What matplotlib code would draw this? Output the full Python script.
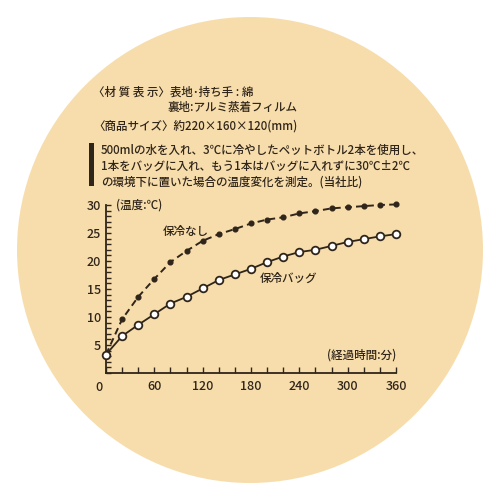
import matplotlib
matplotlib.use("Agg")
import matplotlib.pyplot as plt
from matplotlib.patches import Circle, Rectangle
from matplotlib.ticker import FixedLocator, MultipleLocator

plt.rcParams["font.family"] = ["Noto Sans CJK JP", "DejaVu Sans"]
plt.rcParams["font.weight"] = "medium"

minutes = list(range(0, 361, 20))
no_cooler = [3.3, 9.6, 13.6, 16.8, 19.8, 21.8, 23.6, 24.8, 25.7, 26.7,
             27.4, 27.8, 28.5, 28.9, 29.4, 29.6, 29.8, 30.0, 30.1]
cooler_bag = [3.3, 6.6, 8.6, 10.5, 12.4, 13.6, 15.1, 16.6, 17.6, 18.6,
              19.8, 20.8, 21.6, 22.0, 22.7, 23.4, 23.9, 24.4, 24.8]
x_ticks = [60, 120, 180, 240, 300, 360]
y_ticks = [5, 10, 15, 20, 25, 30]

header_lines = [
    (93, 92, "〈材 質 表 示〉表地･持ち手 : 綿"),
    (168, 107, "裏地:アルミ蒸着フィルム"),
    (93, 126, "〈商品サイズ〉約220×160×120(mm)"),
]
note_lines = [
    "500mlの水を入れ、3℃に冷やしたペットボトル2本を使用し、",
    "1本をバッグに入れ、もう1本はバッグに入れずに30℃±2℃",
    "の環境下に置いた場合の温度変化を測定。(当社比)",
]

ink = "#30251a"
paper = "#f7ddac"

fig = plt.figure(figsize=(5, 5), dpi=100)
fig.patch.set_facecolor("white")
fig.patches.append(Circle((0.5, 0.5), 0.466, transform=fig.transFigure,
                          facecolor=paper, edgecolor="none", zorder=0))


def px(x, y):
    return x / 500, 1 - y / 500


for x, y, s in header_lines:
    fig.text(*px(x, y), s, fontsize=8.3, color=ink, va="center", ha="left")
for i, s in enumerate(note_lines):
    fig.text(*px(101, 150 + i * 16), s, fontsize=8.3, color=ink,
             va="center", ha="left")
fig.patches.append(Rectangle(px(89, 186), 5 / 500, 43 / 500,
                             transform=fig.transFigure, facecolor=ink,
                             edgecolor="none"))

ax = fig.add_axes([0.212, 0.254, 0.58, 0.336])
ax.set_zorder(5)
ax.set_facecolor("none")
ax.plot(minutes, no_cooler, color=ink, lw=1.4, ls=(0, (3.5, 2.2)),
        marker="o", ms=3.4, mfc=ink, mec=ink, clip_on=False, zorder=3)
ax.plot(minutes, cooler_bag, color=ink, lw=1.3, marker="o", ms=5.5,
        mfc="white", mec=ink, mew=1.3, clip_on=False, zorder=4)

ax.set_xlim(0, 360)
ax.set_ylim(0, 30)
for side in ("top", "right"):
    ax.spines[side].set_visible(False)
for side in ("left", "bottom"):
    ax.spines[side].set_color(ink)
    ax.spines[side].set_linewidth(1.3)

ax.xaxis.set_major_locator(FixedLocator(x_ticks))
ax.xaxis.set_minor_locator(MultipleLocator(20))
ax.yaxis.set_major_locator(FixedLocator(y_ticks))
ax.yaxis.set_minor_locator(MultipleLocator(1))
ax.tick_params(axis="both", which="both", direction="in", color=ink,
               width=1.0, labelcolor=ink, labelsize=9)
ax.tick_params(axis="x", which="both", length=4.5, pad=5)
ax.tick_params(axis="y", which="both", length=3.6, pad=3.5)
ax.text(-9, -1.4, "0", fontsize=9, color=ink, ha="center", va="top")

ax.text(12, 30, "(温度:℃)", fontsize=8.3, color=ink, va="center")
ax.text(70, 25.2, "保冷なし", fontsize=8.3, color=ink, va="center")
ax.text(191, 16.9, "保冷バッグ", fontsize=8.3, color=ink, va="center")
ax.text(360, 3.2, "(経過時間:分)", fontsize=8.3, color=ink, va="center",
        ha="right")

fig.savefig("out.png", dpi=100)
